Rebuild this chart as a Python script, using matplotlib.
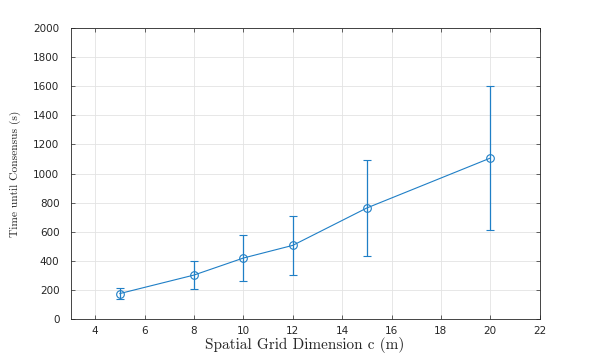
import matplotlib
matplotlib.use("Agg")
import matplotlib.pyplot as plt

grid_dim = [5, 8, 10, 12, 15, 20]
mean_time = [175, 302, 419, 506, 763, 1106]
err_time = [35, 94, 155, 205, 327, 496]
x_ticks = [4, 6, 8, 10, 12, 14, 16, 18, 20, 22]
y_ticks = [0, 200, 400, 600, 800, 1000, 1200, 1400, 1600, 1800, 2000]

fig = plt.figure(figsize=(5.98, 3.59), dpi=100)
ax = fig.add_axes([70.5/598, 1 - 319/359, (539.7-70.5)/598, (319-28)/359])

blue = "#1f7fc6"
ax.errorbar(grid_dim, mean_time, yerr=err_time, color=blue, lw=0.8,
            marker='o', mfc='none', mec=blue, ms=5.5, mew=0.8,
            capsize=2.6, capthick=0.8, elinewidth=0.9)

ax.set_xlim(3, 22)
ax.set_ylim(0, 2000)
ax.set_xticks(x_ticks)
ax.set_yticks(y_ticks)
ax.grid(True, color="#e3e3e3", lw=0.6)
ax.set_axisbelow(True)
ax.tick_params(direction='in', top=True, right=True, length=3, width=0.5,
               colors="#262626", labelsize=7.5)
ax.tick_params(axis='y', pad=8)
ax.tick_params(axis='x', pad=5)
for lab in ax.get_xticklabels() + ax.get_yticklabels():
    lab.set_family("DejaVu Sans")
for s in ax.spines.values():
    s.set_color("#262626")
    s.set_linewidth(0.6)

ax.set_xlabel("Spatial Grid Dimension c (m)", family="cmr10", fontsize=11,
              color="#262626", labelpad=1)
ax.set_ylabel("Time until Consensus (s)", family="cmr10", fontsize=8.3,
              color="#262626", labelpad=9)

fig.savefig("out.png", dpi=100)
